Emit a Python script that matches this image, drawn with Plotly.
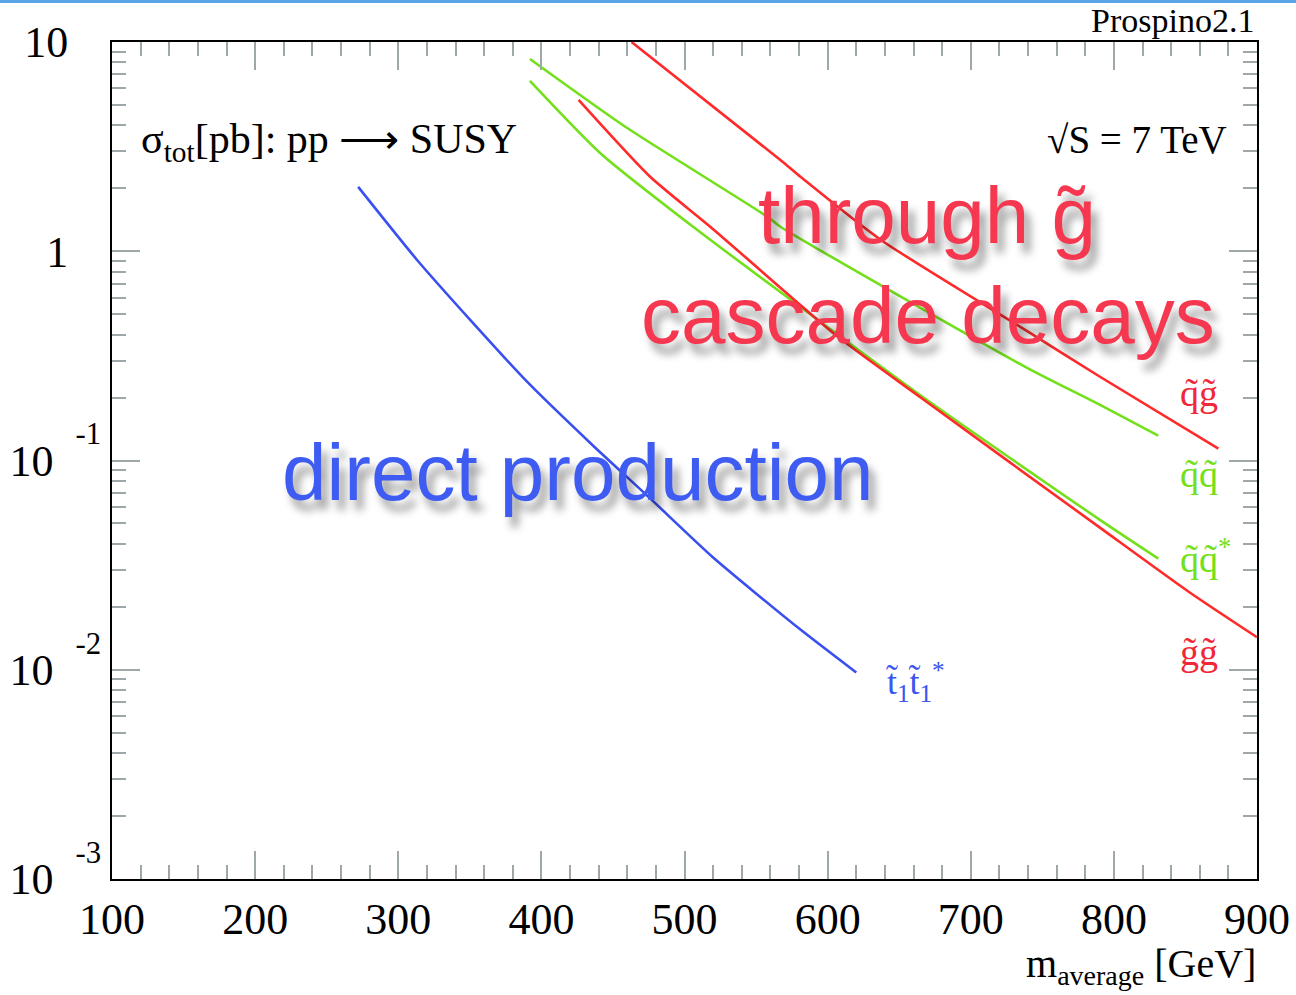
import plotly.graph_objects as go

# ---- data ----
stop_m = [272, 313, 352, 390, 436, 476, 520, 579, 620]
stop_xs = [2.03, 0.911, 0.456, 0.238, 0.118, 0.0659, 0.0344, 0.01595, 0.0097]

qg_m = [463, 567, 581, 637, 740, 790, 873]
qg_xs = [10.0, 2.73, 2.27, 1.135, 0.413, 0.252, 0.114]

qq_m = [392, 460, 558, 567, 739, 790, 831]
qq_xs = [8.3, 3.88, 1.46, 1.31, 0.278, 0.185, 0.1315]

qqbar_m = [392, 441, 506, 667, 790, 831]
qqbar_xs = [6.52, 2.95, 1.31, 0.200, 0.0522, 0.034]

gg_m = [426, 476, 518, 607, 665, 790, 853, 900]
gg_xs = [5.29, 2.27, 1.31, 0.391, 0.200, 0.0479, 0.0234, 0.0143]

y_tickvals = [0.001, 0.01, 0.1, 1, 10]
NB = "\u00a0"
def exp_label(e):
    return "10" + NB * 2 + "<sup><span style='baseline-shift:13px'>" + e + "</span></sup>"
y_ticktext = [exp_label("-3"), exp_label("-2"), exp_label("-1"), "1" + NB * 3, "10" + NB * 3]
x_tickvals = [100, 200, 300, 400, 500, 600, 700, 800, 900]

RED = "#ff2a2a"
GREEN = "#74e01c"
BLUE = "#3a4ff0"
SERIF = "Liberation Serif"
SANS = "Liberation Sans"
TICKGREY = "#9ea8a8"

fig = go.Figure()
for m, xs, c in [(stop_m, stop_xs, BLUE), (qg_m, qg_xs, RED), (qq_m, qq_xs, GREEN),
                 (qqbar_m, qqbar_xs, GREEN), (gg_m, gg_xs, RED)]:
    fig.add_trace(go.Scatter(x=m, y=xs, mode="lines",
                             line=dict(color=c, width=2.6, shape="spline", smoothing=0.6),
                             showlegend=False, hoverinfo="skip"))

fig.update_layout(
    width=1296, height=995,
    margin=dict(l=112, r=39, t=42, b=116, autoexpand=False),
    paper_bgcolor="white", plot_bgcolor="white",
    showlegend=False,
)
fig.update_xaxes(
    range=[100, 900], tickvals=x_tickvals, ticks="inside", ticklen=28, tickwidth=2,
    tickcolor=TICKGREY, showline=True, linecolor="black", linewidth=2, mirror="allticks",
    showgrid=False, zeroline=False, ticklabelstandoff=0, automargin=False,
    tickfont=dict(family=SERIF, size=44, color="black"),
    minor=dict(dtick=20, ticks="inside", ticklen=14, tickwidth=2, tickcolor=TICKGREY, showgrid=False),
)
fig.update_yaxes(
    type="log", range=[-3, 1], tickvals=y_tickvals, ticktext=y_ticktext,
    ticks="inside", ticklen=28, tickwidth=2, tickcolor=TICKGREY,
    showline=True, linecolor="black", linewidth=2, mirror="allticks",
    showgrid=False, zeroline=False, ticklabelstandoff=0, automargin=False,
    tickfont=dict(family=SERIF, size=44, color="black"),
    minor=dict(dtick="D1", ticks="inside", ticklen=14, tickwidth=2, tickcolor=TICKGREY, showgrid=False),
)

def px2paper(px, py):
    return (px - 112) / 1145, (879 - py) / 837

ann = []
def add(text, px, py, size, color, family=SERIF, xanchor="center", shadow=None):
    x, y = px2paper(px, py)
    f = dict(family=family, size=size, color=color)
    if shadow:
        f["shadow"] = shadow
    ann.append(dict(text=text, x=x, y=y, xref="paper", yref="paper", xanchor=xanchor,
                    yanchor="middle", showarrow=False, font=f))

add("Prospino2.1", 1256, 20, 34, "black", xanchor="right")
add("\u221aS = 7 TeV", 1229, 140, 39, "black", xanchor="right")
add("\u03c3<sub>tot</sub>[pb]: pp \u27f6 SUSY", 139, 142, 42, "black", xanchor="left")
add("m<sub>average</sub> [GeV]", 1258, 966, 40, "black", xanchor="right")

SH = "6px 10px 8px rgba(0,0,0,0.4)"
add("direct production", 280, 472, 80, "#3e5cf2", family=SANS, xanchor="left", shadow=SH)
add("through g\u0303", 756, 215, 80, "#f5374f", family=SANS, xanchor="left", shadow=SH)
add("cascade decays", 639, 315, 80, "#f5374f", family=SANS, xanchor="left", shadow=SH)

add("q\u0303g\u0303", 1178, 393, 38, "#f02838", xanchor="left")
add("q\u0303q\u0303", 1178, 474, 38, GREEN, xanchor="left")
add("q\u0303q\u0303<sup>*</sup>", 1178, 556, 38, GREEN, xanchor="left")
add("g\u0303g\u0303", 1178, 652, 38, "#f02838", xanchor="left")
add("t\u0303<sub>1</sub>t\u0303<sub>1</sub><sup>*</sup>", 884, 682, 36, "#3a55f0", xanchor="left")

fig.update_layout(annotations=ann)

# slide border strip at the top
fig.add_shape(type="rect", xref="paper", yref="paper",
              x0=-112 / 1145, x1=1 + 39 / 1145, y0=1 + 39 / 837, y1=1 + 42 / 837,
              fillcolor="#5aa5e6", line=dict(width=0), layer="above")

fig.write_html("out.html")
